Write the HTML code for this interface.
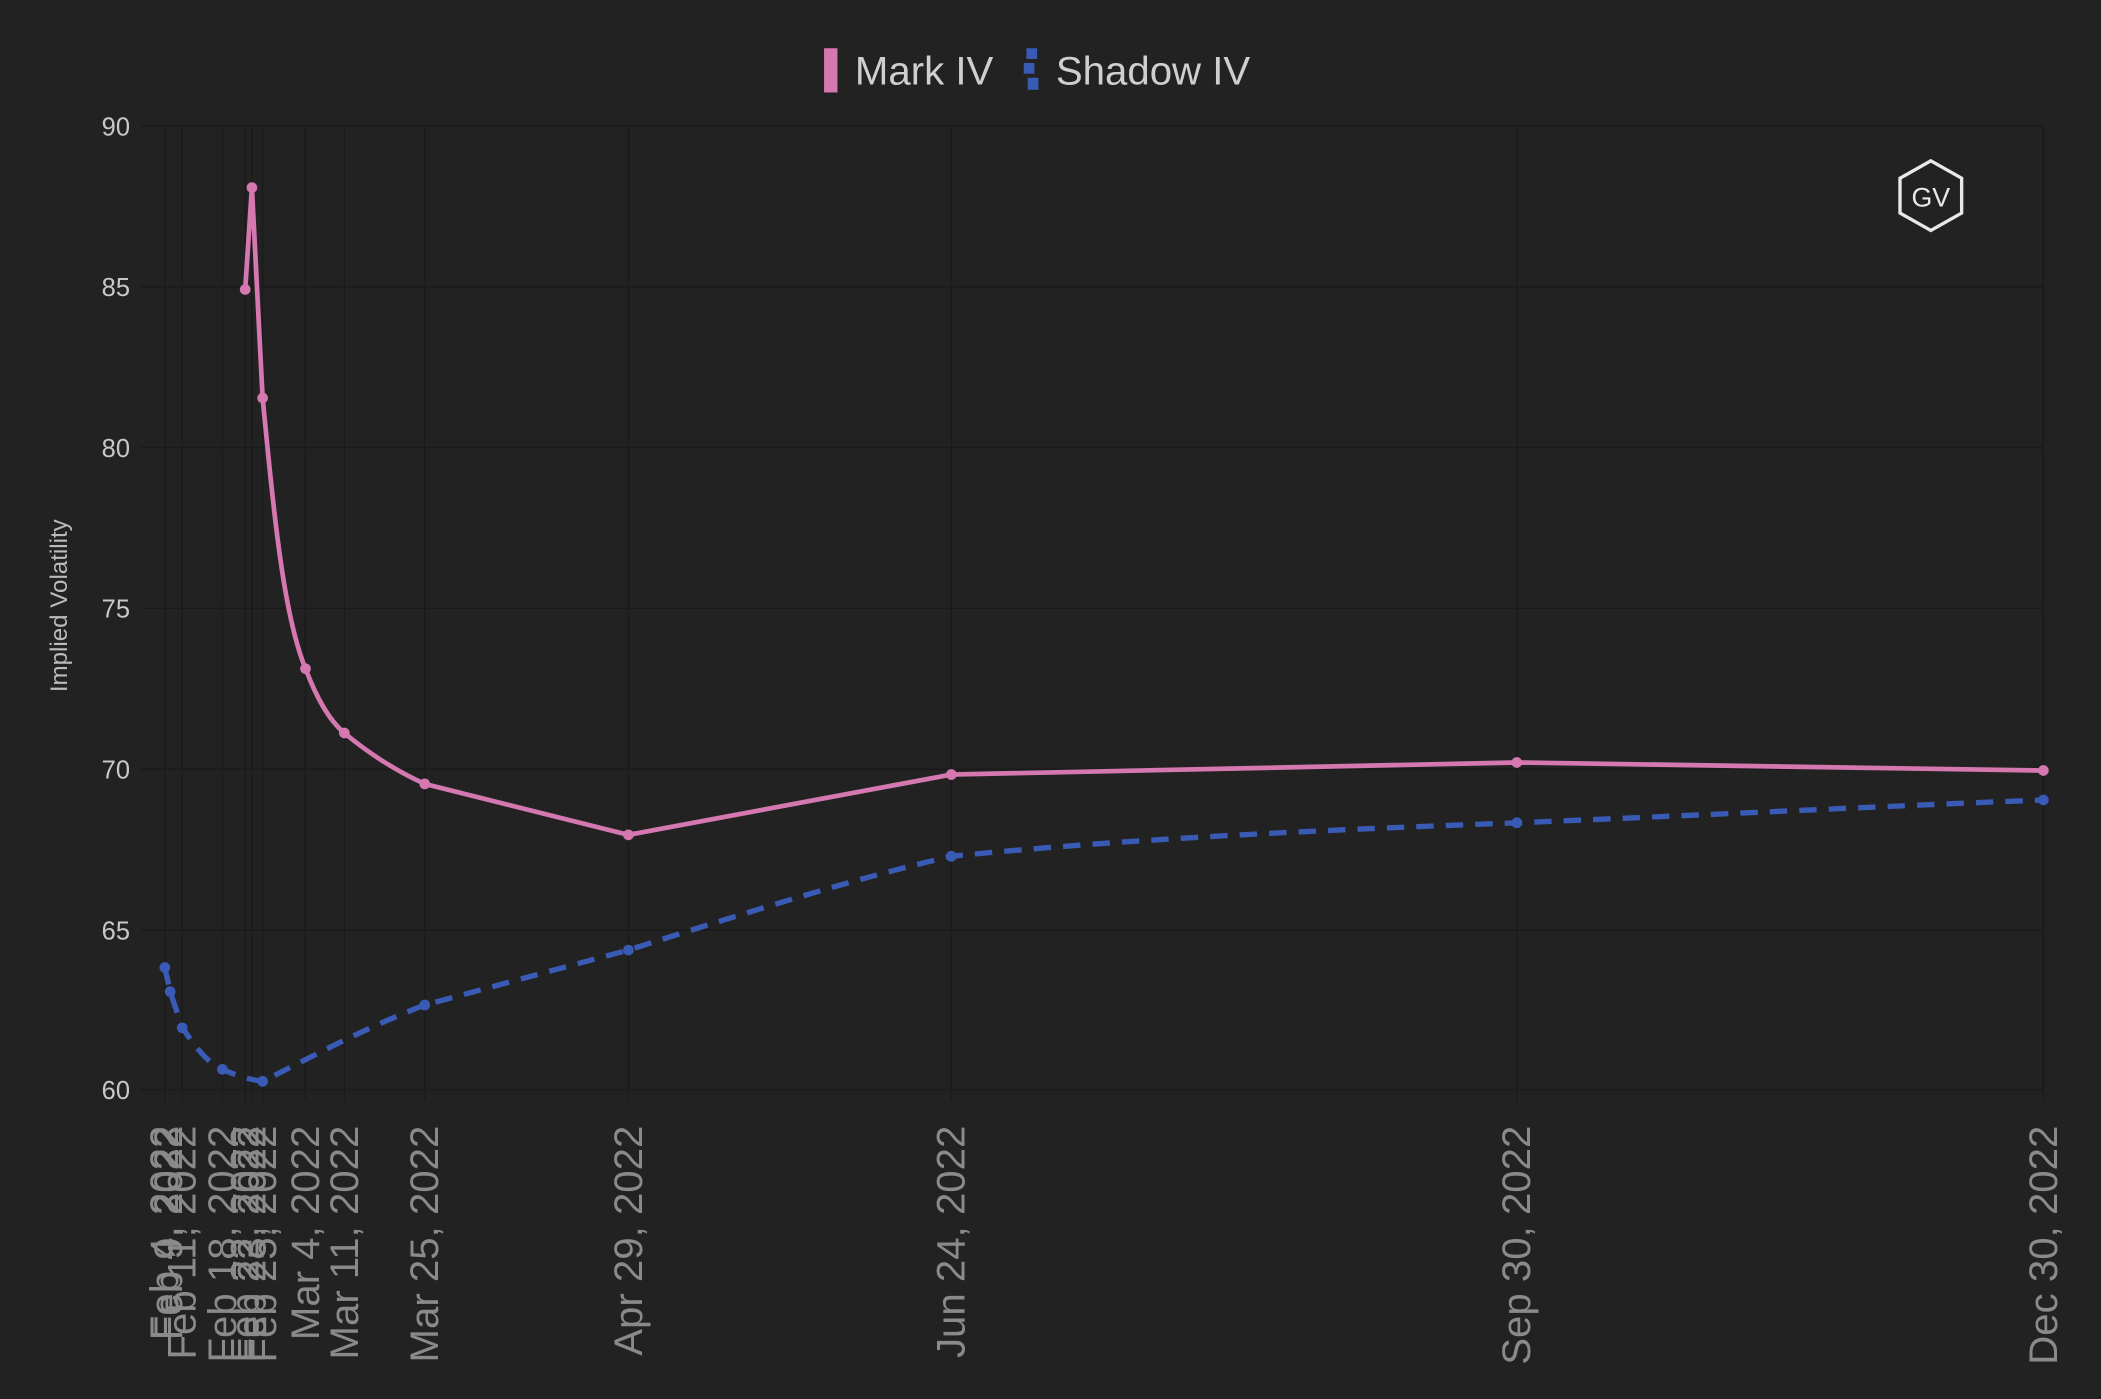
<!DOCTYPE html>
<html><head><meta charset="utf-8"><style>
html,body{margin:0;padding:0;background:#222222;}
svg{display:block;}
text{font-family:"Liberation Sans",sans-serif;}
</style></head><body>
<svg width="2101" height="1399" viewBox="0 0 1568 1044" preserveAspectRatio="none" xmlns="http://www.w3.org/2000/svg">
<rect width="1568" height="1044" fill="#222222"/>
<g stroke="#1a1a1a" stroke-width="1">
<line x1="105" y1="94" x2="1525" y2="94"/>
<line x1="105" y1="214" x2="1525" y2="214"/>
<line x1="105" y1="334" x2="1525" y2="334"/>
<line x1="105" y1="454" x2="1525" y2="454"/>
<line x1="105" y1="574" x2="1525" y2="574"/>
<line x1="105" y1="694" x2="1525" y2="694"/>
<line x1="105" y1="813" x2="1525" y2="813"/>
<line x1="123" y1="94" x2="123" y2="822"/><line x1="136" y1="94" x2="136" y2="822"/>
<line x1="166" y1="94" x2="166" y2="822"/><line x1="183" y1="94" x2="183" y2="822"/>
<line x1="188" y1="94" x2="188" y2="822"/><line x1="196" y1="94" x2="196" y2="822"/>
<line x1="228" y1="94" x2="228" y2="822"/><line x1="257" y1="94" x2="257" y2="822"/>
<line x1="317" y1="94" x2="317" y2="822"/><line x1="469" y1="94" x2="469" y2="822"/>
<line x1="710" y1="94" x2="710" y2="822"/><line x1="1132" y1="94" x2="1132" y2="822"/>
<line x1="1525" y1="94" x2="1525" y2="822"/>
</g>
<g fill="#c8c8c8" font-size="19" text-anchor="end">
<text x="97" y="101">90</text><text x="97" y="221">85</text><text x="97" y="341">80</text>
<text x="97" y="461">75</text><text x="97" y="581">70</text><text x="97" y="701">65</text>
<text x="97" y="820">60</text>
</g>
<text transform="translate(50,452) rotate(-90)" text-anchor="middle" fill="#bbbbbb" font-size="18">Implied Volatility</text>
<g fill="#8a8a8a" font-size="30" text-anchor="end">
<text transform="translate(133,840) rotate(-90)">Feb 4, 2022</text>
<text transform="translate(136,840) rotate(-90)">Feb 9, 2022</text>
<text transform="translate(146,840) rotate(-90)">Feb 11, 2022</text>
<text transform="translate(176,840) rotate(-90)">Feb 18, 2022</text>
<text transform="translate(193,840) rotate(-90)">Feb 22, 2022</text>
<text transform="translate(198,840) rotate(-90)">Feb 23, 2022</text>
<text transform="translate(206,840) rotate(-90)">Feb 25, 2022</text>
<text transform="translate(238,840) rotate(-90)">Mar 4, 2022</text>
<text transform="translate(267,840) rotate(-90)">Mar 11, 2022</text>
<text transform="translate(327,840) rotate(-90)">Mar 25, 2022</text>
<text transform="translate(479,840) rotate(-90)">Apr 29, 2022</text>
<text transform="translate(720,840) rotate(-90)">Jun 24, 2022</text>
<text transform="translate(1142,840) rotate(-90)">Sep 30, 2022</text>
<text transform="translate(1535,840) rotate(-90)">Dec 30, 2022</text>
</g>
<rect x="615" y="36" width="10" height="33" fill="#d678b0"/>
<text x="638" y="63" fill="#cfcfcf" font-size="30">Mark IV</text>
<rect x="766" y="36" width="8" height="8" fill="#3a5bb5"/><rect x="764" y="47" width="8" height="8" fill="#3a5bb5"/><rect x="767" y="58" width="8" height="9" fill="#3a5bb5"/>
<text x="788" y="63" fill="#cfcfcf" font-size="30">Shadow IV</text>
<polygon points="1441,120 1464,133 1464,159 1441,172 1418,159 1418,133" fill="none" stroke="#e8e8e8" stroke-width="2.5"/>
<text x="1441" y="154" text-anchor="middle" fill="#e8e8e8" font-size="20">GV</text>
<path d="M123,722 L127,740 L136,767 C148,784 155,793 166,798 C175,802 183,805 196,807 C230,790 270,768 317,750 C380,733 420,722 469,709 C560,680 640,655 710,639 C850,625 1000,619 1132,614 C1300,607 1420,601 1525,597" fill="none" stroke="#3a5bb5" stroke-width="4" stroke-dasharray="13,9"/>
<g fill="#3a5bb5">
<circle cx="123" cy="722" r="4"/><circle cx="127" cy="740" r="4"/><circle cx="136" cy="767" r="4"/>
<circle cx="166" cy="798" r="4"/><circle cx="196" cy="807" r="4"/><circle cx="317" cy="750" r="4"/>
<circle cx="469" cy="709" r="4"/><circle cx="710" cy="639" r="4"/><circle cx="1132" cy="614" r="4"/><circle cx="1525" cy="597" r="4"/>
</g>
<path d="M183,216 L188,140 L196,297 C205,390 212,460 228,499 C236,520 245,537 257,547 C275,562 295,575 317,585 L469,623 L710,578 L1132,569 L1525,575" fill="none" stroke="#d678b0" stroke-width="3.5"/>
<g fill="#d678b0">
<circle cx="183" cy="216" r="4"/><circle cx="188" cy="140" r="4"/><circle cx="196" cy="297" r="4"/>
<circle cx="228" cy="499" r="4"/><circle cx="257" cy="547" r="4"/><circle cx="317" cy="585" r="4"/>
<circle cx="469" cy="623" r="4"/><circle cx="710" cy="578" r="4"/><circle cx="1132" cy="569" r="4"/><circle cx="1525" cy="575" r="4"/>
</g>
</svg>
</body></html>
